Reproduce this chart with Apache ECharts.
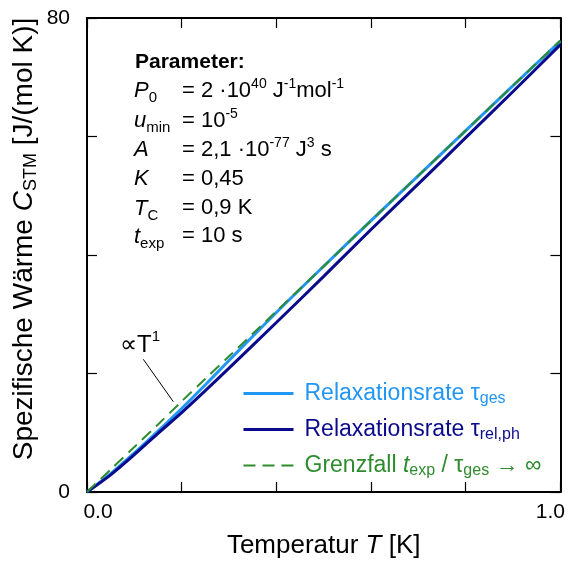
<!DOCTYPE html>
<html>
<head>
<meta charset="utf-8">
<script src="https://cdn.jsdelivr.net/npm/echarts@6/dist/echarts.min.js"></script>
<style>
  html, body { margin: 0; padding: 0; background: #fff; }
  #chart { width: 568px; height: 565px; }
</style>
</head>
<body>
<div id="chart"></div>
<script>
// Temperature grid [K]
const tempK = [0, 0.05, 0.1, 0.15, 0.2, 0.25, 0.3, 0.4, 0.5, 0.6, 0.7, 0.8, 0.9, 1.0];
// Specific heat C_STM [J/(mol K)] for the total relaxation rate tau_ges
const cGes = [0, 3.1, 6.6, 10.3, 14.1, 18.1, 22.2, 30.3, 38.1, 45.8, 53.4, 61.0, 68.6, 76.1];
// Specific heat for the relaxation rate tau_rel,ph
const cRelPh = [0, 2.9, 6.3, 9.9, 13.4, 17.1, 20.9, 28.6, 36.4, 44.3, 52.0, 59.8, 67.6, 75.5];
// Limiting case t_exp / tau_ges -> infinity (proportional to T)
const cLimit = [0, 3.8, 7.6, 11.4, 15.3, 19.1, 22.9, 30.5, 38.1, 45.8, 53.4, 61.0, 68.6, 76.2];

const xTicks = { min: 0, max: 1, step: 0.2 };
const yTicks = { min: 0, max: 80, step: 20 };

const LIGHT = '#2196f3';
const DARK = '#0a0a8c';
const GREEN = '#2e8b2e';
const FONT = '"Liberation Sans", Arial, Helvetica, sans-serif';

const pairs = (ys) => tempK.map((t, i) => [t, ys[i]]);

const chart = echarts.init(document.getElementById('chart'), null, { renderer: 'canvas' });

const axisCommon = () => ({
  type: 'value',
  axisLine: { show: true, onZero: false, lineStyle: { color: '#000', width: 2 } },
  axisTick: { show: true, inside: true, length: 10, lineStyle: { color: '#000', width: 1.2 } },
  splitLine: { show: false }
});

// Parameter block: [label, value] pairs as rich text
const paramLines = [
  ['{i|P}{sub|0}', '{n|= 2 ·10}{sup|40}{n| J}{sup|-1}{n|mol}{sup|-1}'],
  ['{i|u}{sub|min}', '{n|= 10}{sup|-5}'],
  ['{i|A}', '{n|= 2,1 ·10}{sup|-77}{n| J}{sup|3}{n| s}'],
  ['{i|K}', '{n|= 0,45}'],
  ['{i|T}{sub|C}', '{n|= 0,9 K}'],
  ['{i|t}{sub|exp}', '{n|= 10 s}']
];

const richText = {
  n: { fontSize: 22, fontFamily: FONT, lineHeight: 30, fill: '#000' },
  i: { fontSize: 22, fontFamily: FONT, fontStyle: 'italic', lineHeight: 30, fill: '#000' },
  b: { fontSize: 21, fontFamily: FONT, fontWeight: 'bold', lineHeight: 30, fill: '#000' },
  sup: { fontSize: 14, fontFamily: FONT, lineHeight: 14, padding: [0, 0, 13, 0], fill: '#000' },
  sub: { fontSize: 15, fontFamily: FONT, lineHeight: 14, padding: [14, 0, 0, 0], fill: '#000' }
};

const baselines = [98.3, 128.3, 157.3, 186.7, 216, 244];
const graphics = [
  {
    type: 'text', x: 135, y: 69.3 - 7.3,
    style: { text: '{b|Parameter:}', rich: richText, verticalAlign: 'middle', align: 'left' }
  }
];
paramLines.forEach((pl, k) => {
  graphics.push({
    type: 'text', x: 134, y: baselines[k] - 7.6,
    style: { text: pl[0], rich: richText, verticalAlign: 'middle', align: 'left' }
  });
  graphics.push({
    type: 'text', x: 182, y: baselines[k] - 7.6,
    style: { text: pl[1], rich: richText, verticalAlign: 'middle', align: 'left' }
  });
});

// Y axis title (rotated)
graphics.push({
  type: 'text', x: 24, y: 239, rotation: Math.PI / 2,
  style: {
    text: '{n|Spezifische Wärme }{i|C}{sub|STM}{n| [J/(mol K)]}',
    rich: {
      n: { fontSize: 28, fontFamily: FONT, lineHeight: 32, fill: '#000' },
      i: { fontSize: 28, fontFamily: FONT, fontStyle: 'italic', lineHeight: 32, fill: '#000' },
      sub: { fontSize: 18, fontFamily: FONT, lineHeight: 16, padding: [15, 0, 0, 0], fill: '#000' }
    },
    align: 'center', verticalAlign: 'middle'
  }
});

// Annotation for the linear limit
graphics.push({
  type: 'text', x: 120, y: 345,
  style: {
    text: '{n|∝T}{sup|1}',
    rich: {
      n: { fontSize: 24, fontFamily: FONT, lineHeight: 30, fill: '#000' },
      sup: { fontSize: 15, fontFamily: FONT, lineHeight: 15, padding: [0, 0, 16, 0], fill: '#000' }
    },
    align: 'left', verticalAlign: 'middle'
  }
});
graphics.push({
  type: 'line',
  shape: { x1: 143.3, y1: 359.3, x2: 173.3, y2: 401.7 },
  style: { stroke: '#000', lineWidth: 1 }
});

const legendRich = {
  a: { color: LIGHT, fontSize: 23, fontFamily: FONT, lineHeight: 26 },
  as: { color: LIGHT, fontSize: 16, fontFamily: FONT, lineHeight: 15, padding: [11, 0, 0, 0] },
  b: { color: DARK, fontSize: 23, fontFamily: FONT, lineHeight: 26 },
  bs: { color: DARK, fontSize: 16, fontFamily: FONT, lineHeight: 15, padding: [11, 0, 0, 0] },
  c: { color: GREEN, fontSize: 23, fontFamily: FONT, lineHeight: 26 },
  ci: { color: GREEN, fontSize: 23, fontFamily: FONT, fontStyle: 'italic', lineHeight: 26 },
  cs: { color: GREEN, fontSize: 16, fontFamily: FONT, lineHeight: 15, padding: [11, 0, 0, 0] }
};
const legendText = {
  ges: '{a|Relaxationsrate τ}{as|ges}',
  relph: '{b|Relaxationsrate τ}{bs|rel,ph}',
  limit: '{c|Grenzfall }{ci|t}{cs|exp}{c| / τ}{cs|ges}{c| → ∞}'
};

const option = {
  animation: false,
  backgroundColor: '#fff',
  grid: { left: 87, right: 7, top: 18, bottom: 73, containLabel: false },
  xAxis: [
    Object.assign(axisCommon(), {
      position: 'bottom', min: xTicks.min, max: xTicks.max, interval: xTicks.step,
      axisLabel: {
        show: true, margin: 10, color: '#000', fontSize: 21, fontFamily: FONT,
        formatter: (v) => (Math.abs(v) < 1e-9 ? '{l|0.0}' : Math.abs(v - 1) < 1e-9 ? '{r|1.0}' : ''),
        rich: {
          l: { fontSize: 21, fontFamily: FONT, color: '#000', padding: [0, 0, 0, 22] },
          r: { fontSize: 21, fontFamily: FONT, color: '#000', padding: [0, 20, 0, 0] }
        }
      },
      name: '{n|Temperatur }{i|T}{n| [K]}',
      nameLocation: 'middle', nameGap: 41,
      nameTextStyle: {
        rich: {
          n: { fontSize: 26, fontFamily: FONT, color: '#000' },
          i: { fontSize: 26, fontFamily: FONT, fontStyle: 'italic', color: '#000' }
        }
      }
    }),
    Object.assign(axisCommon(), {
      position: 'top', min: xTicks.min, max: xTicks.max, interval: xTicks.step,
      axisLabel: { show: false }
    })
  ],
  yAxis: [
    Object.assign(axisCommon(), {
      position: 'left', min: yTicks.min, max: yTicks.max, interval: yTicks.step,
      axisLabel: {
        show: true, margin: 17, color: '#000', fontSize: 21, fontFamily: FONT,
        formatter: (v) => (v === yTicks.min || v === yTicks.max ? String(v) : '')
      }
    }),
    Object.assign(axisCommon(), {
      position: 'right', min: yTicks.min, max: yTicks.max, interval: yTicks.step,
      axisLabel: { show: false }
    })
  ],
  legend: {
    orient: 'vertical', left: 242, top: 380, padding: 0,
    itemWidth: 50, itemHeight: 14, itemGap: 9,
    data: [
      { name: 'ges', lineStyle: { width: 3 } },
      { name: 'relph', lineStyle: { width: 3 } },
      { name: 'limit', lineStyle: { width: 2 } }
    ],
    formatter: (name) => legendText[name],
    itemStyle: { opacity: 0, color: 'rgba(0,0,0,0)', borderWidth: 0 },
    textStyle: { rich: legendRich, padding: [0, 0, 0, 6] },
    selectedMode: false
  },
  series: [
    {
      name: 'ges', type: 'line', data: pairs(cGes), smooth: 0.3,
      symbol: 'none', showSymbol: false, z: 2,
      lineStyle: { color: LIGHT, width: 3 }, itemStyle: { color: LIGHT }
    },
    {
      name: 'relph', type: 'line', data: pairs(cRelPh), smooth: 0.3,
      symbol: 'none', showSymbol: false, z: 3,
      lineStyle: { color: DARK, width: 3 }, itemStyle: { color: DARK }
    },
    {
      name: 'limit', type: 'line', data: pairs(cLimit), smooth: 0.3,
      symbol: 'none', showSymbol: false, z: 4,
      lineStyle: { color: GREEN, width: 2, type: [12, 7] }, itemStyle: { color: GREEN }
    }
  ],
  graphic: graphics
};

chart.setOption(option);
</script>
</body>
</html>
